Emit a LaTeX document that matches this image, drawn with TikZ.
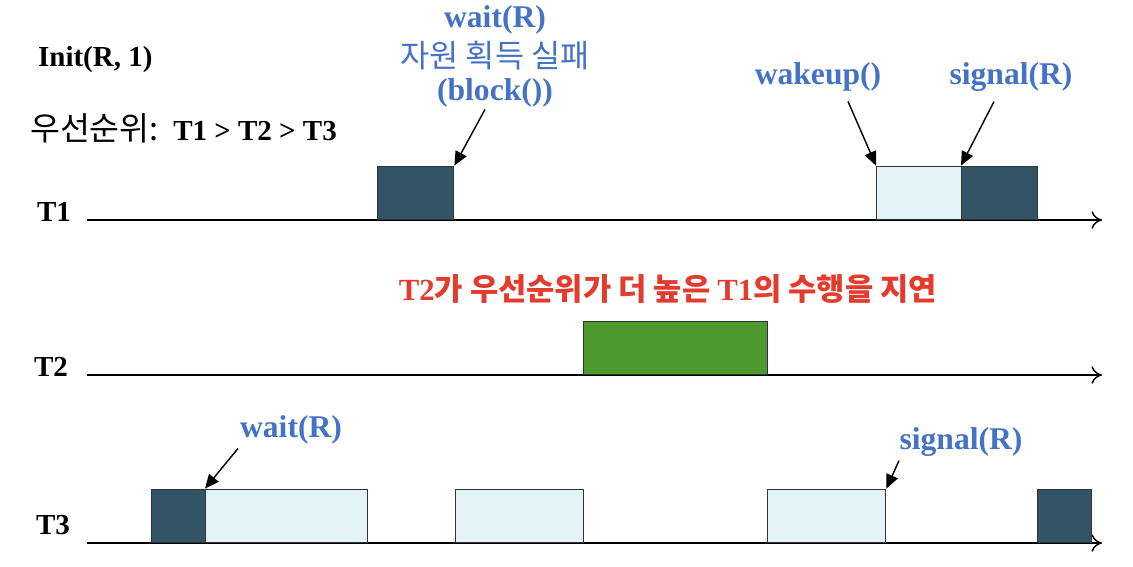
\documentclass[tikz,border=0pt]{standalone}
\usepackage{fontspec}
\setmainfont{Liberation Serif}
\newfontfamily\kr{Noto Sans CJK KR}
\usetikzlibrary{calc,arrows.meta}

\definecolor{darkbox}{RGB}{50,84,102}
\definecolor{lightbox}{RGB}{228,243,248}
\definecolor{greenbox}{RGB}{78,154,46}
\definecolor{lblue}{RGB}{68,114,196}
\definecolor{lred}{RGB}{227,59,46}

\begin{document}
\begin{tikzpicture}[x=0.02cm, y=-0.02cm,
    task/.style={draw=black!80, thick, anchor=south west, inner sep=0, minimum height=1.06cm},
    dark/.style={task, fill=darkbox},
    light/.style={task, fill=lightbox},
    busy/.style={task, fill=greenbox},
    lbl/.style={font=\fontsize{16.5}{19}\selectfont\bfseries, inner sep=1pt},
    call/.style={lbl, font=\fontsize{18}{21}\selectfont\bfseries, text=lblue, align=center},
    ptr/.style={-{Triangle[length=8pt,width=7pt]}, thick},
    axis/.style={->, >={To[length=6pt,width=10pt]}, thick},
]

\useasboundingbox (0,0) rectangle (1133,566);

% time lines
\coordinate (s1) at (87,220);  \coordinate (e1) at (1102,220);
\coordinate (s2) at (87,375);  \coordinate (e2) at (1102,375);
\coordinate (s3) at (87,543);  \coordinate (e3) at (1102,543);
\draw[axis] (s1) -- (e1);
\draw[axis] (s2) -- (e2);
\draw[axis] (s3) -- (e3);

\node[lbl] (n1) at (54,212) {T1};
\node[lbl] (n2) at (51,367) {T2};
\node[lbl] (n3) at (53,525) {T3};

% T1
\node[dark,  minimum width=1.52cm] (t1a) at (377,220) {};
\node[light, minimum width=1.70cm] (t1b) at (876,220) {};
\node[dark,  minimum width=1.52cm] (t1c) at (961,220) {};

% T2
\node[busy,  minimum width=3.68cm] (t2a) at (583,375) {};

% T3
\node[dark,  minimum width=1.08cm] (t3a) at (151,543) {};
\node[light, minimum width=3.24cm] (t3b) at (205,543) {};
\node[light, minimum width=2.56cm] (t3c) at (455,543) {};
\node[light, minimum width=2.36cm] (t3d) at (767,543) {};
\node[dark,  minimum width=1.08cm] (t3e) at (1037,543) {};

% texts
\node[lbl, anchor=west] (init) at (36,60) {Init(R, 1)};
\node[lbl, anchor=west] (prio) at (28,128) {{\kr\mdseries\fontsize{18.5}{21}\selectfont 우선순위:}\ \ T1 > T2 > T3};
\node[call] (wait1) at (495,20) {wait(R)};
\node[call, font=\kr\fontsize{18}{21}\selectfont] (fail) at (495,56) {자원 획득 실패};
\node[call] (block) at (495,93) {(block())};
\node[call] (wake) at (818,77) {wakeup()};
\node[call] (sig1) at (1011,77) {signal(R)};
\node[lbl, font=\fontsize{17.5}{20}\selectfont\bfseries, text=lred] (delay) at (668,289) {T2{\kr 가 우선순위가 더 높은 }T1{\kr 의 수행을 지연}};
\node[call] (wait3) at (291,430) {wait(R)};
\node[call] (sig3) at (961,442) {signal(R)};

% pointers
\draw[ptr] ($(block.south)+(-10,0)$) -- (t1a.north east);
\draw[ptr] ($(wake.south)+(30,8)$) -- (t1b.north west);
\draw[ptr] ($(sig1.south)+(-17,8)$) -- (t1c.north west);
\draw[ptr] ($(wait3.south)+(-53,2)$) -- (t3b.north west);
\draw[ptr] ($(sig3.south)+(-62,2)$) -- (t3d.north east);

\end{tikzpicture}
\end{document}
